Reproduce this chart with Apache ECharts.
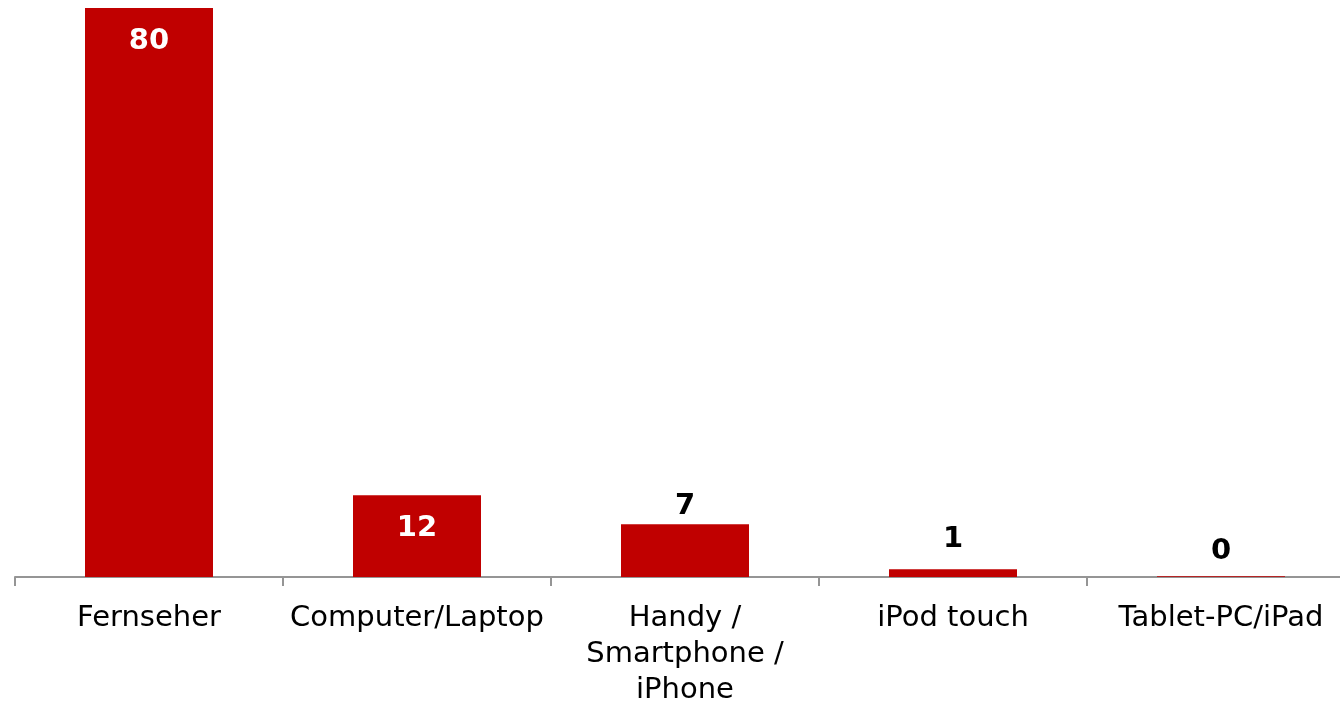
<!DOCTYPE html>
<html>
<head>
<meta charset="utf-8">
<style>
html,body{margin:0;padding:0;background:#fff;}
#chart{width:1340px;height:701px;}
</style>
<script src="https://cdn.jsdelivr.net/npm/echarts@6/dist/echarts.min.js"></script>
</head>
<body>
<div id="chart"></div>
<script>
const categories = ["Fernseher", "Computer/Laptop", "Handy /\nSmartphone /\niPhone", "iPod touch", "Tablet-PC/iPad"];
const values = [80, 11.5, 7.4, 1.1, 0.1];
const yMin = 0;
const yMax = 80;

const chart = echarts.init(document.getElementById('chart'), null, {renderer: 'canvas'});

// label placement styling (not data)
const outsideLabelGap = [8, 8, 3, 15, 10];

const seriesData = values.map(function (v, i) {
  const inside = v > 10;
  return {
    value: v,
    label: inside
      ? {position: 'insideTop', distance: 19, color: '#ffffff'}
      : {position: 'top', distance: outsideLabelGap[i], color: '#000000'}
  };
});

chart.setOption({
  animation: false,
  grid: {left: 15, top: 8, width: 1340, height: 569, containLabel: false, outerBoundsMode: 'none'},
  xAxis: {
    type: 'category',
    data: categories,
    boundaryGap: true,
    axisLine: {show: true, lineStyle: {color: '#959595', width: 2}},
    axisTick: {show: true, length: 9, alignWithLabel: false, lineStyle: {color: '#959595', width: 2}},
    axisLabel: {
      interval: 0,
      margin: 23,
      fontFamily: 'DejaVu Sans',
      fontSize: 29,
      lineHeight: 36,
      color: '#000000'
    }
  },
  yAxis: {
    type: 'value',
    min: yMin,
    max: yMax,
    show: false,
    splitLine: {show: false}
  },
  series: [{
    type: 'bar',
    data: seriesData,
    barWidth: 128,
    itemStyle: {color: '#C00000'},
    label: {
      show: true,
      fontFamily: 'DejaVu Sans',
      fontWeight: 'bold',
      fontSize: 29,
      formatter: function (p) { return Math.round(p.value); }
    }
  }]
});
</script>
</body>
</html>
